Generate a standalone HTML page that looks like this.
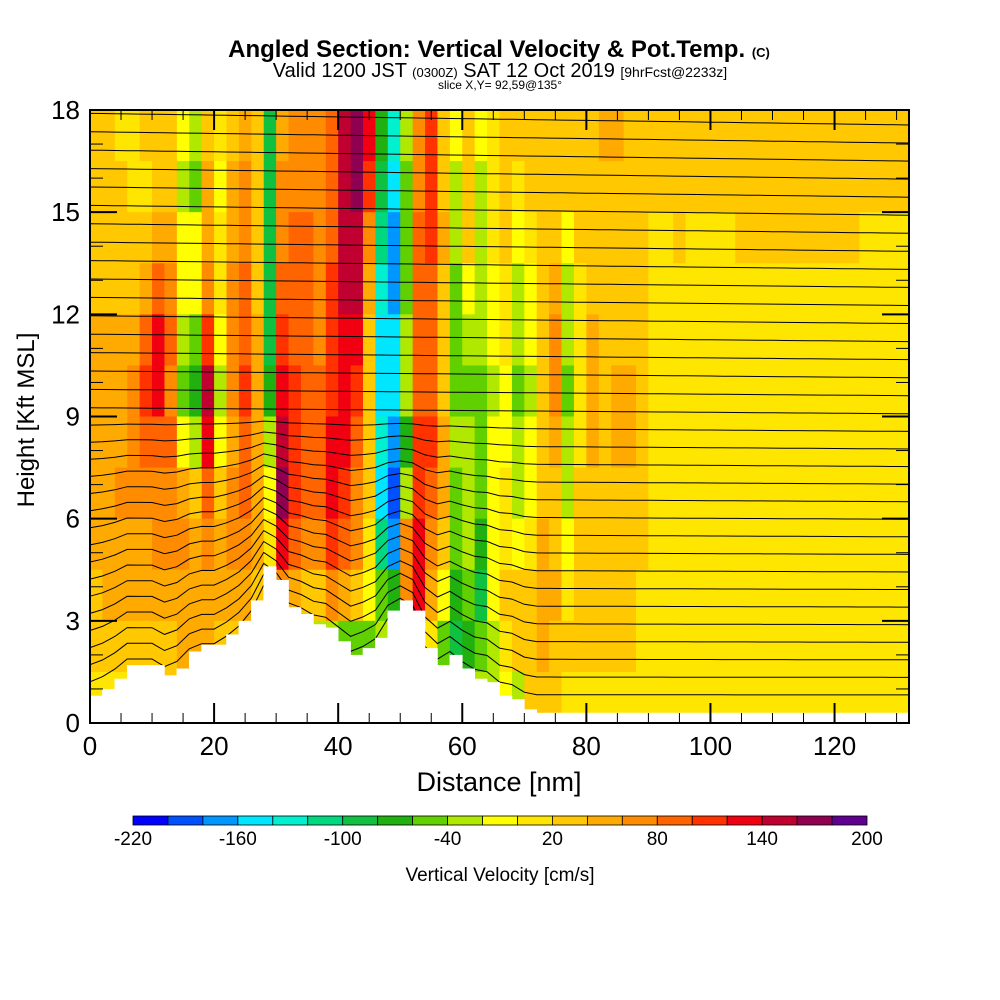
<!DOCTYPE html>
<html><head><meta charset="utf-8"><style>
body{margin:0;background:#fff;}
svg{display:block;font-family:"Liberation Sans",sans-serif;}
</style></head><body>
<svg id="chart" width="1000" height="1000" viewBox="0 0 1000 1000">
<text x="499" y="57" text-anchor="middle" font-size="24" font-weight="bold">Angled Section: Vertical Velocity &amp; Pot.Temp. <tspan font-size="13">(C)</tspan></text>
<text x="500" y="77" text-anchor="middle" font-size="20">Valid 1200 JST <tspan font-size="13">(0300Z)</tspan> SAT 12 Oct 2019 <tspan font-size="14">[9hrFcst@2233z]</tspan></text>
<text x="500" y="89" text-anchor="middle" font-size="12">slice X,Y= 92,59@135°</text>
<g id="cells"></g>
<g id="isen"></g>
<g id="terrain"></g>
<g id="axes"></g>
<text x="499" y="791" text-anchor="middle" font-size="27">Distance [nm]</text>
<text x="0" y="0" transform="translate(34,420) rotate(-90)" text-anchor="middle" font-size="24">Height [Kft MSL]</text>
<g id="cbar"></g>
<text x="500" y="881" text-anchor="middle" font-size="19">Vertical Velocity [cm/s]</text>
</svg>
<script>
// ---- data ----
const colorLevels = [-220,-200,-180,-160,-140,-120,-100,-80,-60,-40,-20,0,20,40,60,80,100,120,140,160,180,200];
const levelColors = ["#0000ff","#0050ff","#0096ff","#00e6ff","#00f0d0","#00d880","#10c040","#20b010","#60d000","#b0e800","#ffff00","#ffe600","#ffc800","#ffaa00","#ff8c00","#ff6400","#ff3200","#f00010","#c00030","#900050","#600090"];
const cbarLabels = [-220,-160,-100,-40,20,80,140,200];
const xTicks = [0,20,40,60,80,100,120];
const yTicks = [0,3,6,9,12,15,18];
// column centres (nm), row centres (kft, top -> bottom)
const distances = [];
for (let i = 0; i < 66; i++) distances.push(1 + 2 * i);
const heights = [17.25,15.75,14.25,12.75,11.25,9.75,8.25,6.75,5.25,3.75,2.25,0.75];
const velocity = [
[20,20,30,30,40,50,50,50,40,30,20,10],
[20,20,30,30,40,50,50,50,50,40,30,10],
[10,20,20,30,40,50,50,60,50,40,30,10],
[10,10,20,30,50,60,60,60,50,40,30,20],
[20,10,30,50,80,100,80,70,50,40,30,30],
[30,20,40,80,120,120,90,70,60,50,30,30],
[30,30,40,60,80,70,80,70,60,50,30,30],
[-20,-40,-20,-20,-40,-60,-20,40,60,50,40,30],
[-40,-50,-20,-10,-60,-80,-40,30,50,50,40,30],
[20,40,50,60,110,150,120,90,70,50,40,30],
[0,-20,0,10,-20,-40,-20,20,40,40,30,20],
[30,40,50,60,70,60,50,60,60,50,30,20],
[50,60,70,80,80,100,90,80,70,50,30,20],
[20,20,20,30,50,50,40,50,40,20,20,20],
[-100,-100,-100,-100,-90,-80,-40,-20,0,0,0,0],
[40,60,70,90,100,120,140,160,120,60,-20,0],
[60,70,80,90,90,100,100,110,80,40,-60,0],
[70,70,80,80,80,80,90,80,60,20,-60,0],
[60,60,70,70,70,80,90,90,70,30,-40,0],
[90,90,90,100,100,110,130,130,110,60,-40,0],
[140,150,150,150,130,120,120,100,90,40,-50,0],
[160,160,150,140,120,100,80,60,60,30,-60,0],
[120,110,60,40,20,20,20,20,10,-20,-60,0],
[-80,-100,-120,-140,-160,-150,-140,-160,-120,-60,-40,0],
[-140,-160,-180,-180,-160,-160,-180,-200,-180,-80,0,0],
[-40,-60,-60,-60,-40,-40,-80,-40,60,60,0,0],
[60,70,80,80,80,90,100,110,130,120,30,0],
[100,110,100,90,80,90,100,80,60,40,0,0],
[30,30,40,30,20,30,40,40,20,-20,-60,0],
[-20,-40,-40,-60,-60,-60,-40,-60,-60,-80,-100,0],
[20,30,20,-20,-40,-60,-40,-40,-40,-60,-80,0],
[-20,-40,-40,-40,-40,-60,-60,-60,-80,-100,-60,-40],
[10,10,0,-20,-20,-30,-20,-20,-20,-20,-40,-40],
[20,20,20,10,0,-20,-20,0,10,20,0,-20],
[20,10,-20,-40,-40,-50,-40,-30,-20,20,20,-30],
[30,20,0,-20,-20,-30,-20,-20,0,30,30,20],
[30,20,20,20,20,30,30,30,40,50,40,20],
[30,30,30,50,60,60,50,30,30,40,30,20],
[30,20,-20,-30,-40,-60,-40,-30,-20,10,20,10],
[30,30,20,10,10,10,10,20,30,30,20,10],
[30,30,30,30,40,50,40,30,20,20,20,10],
[40,30,30,30,30,30,30,30,20,20,20,10],
[40,30,30,30,30,40,40,30,30,20,20,10],
[30,30,30,30,20,40,40,30,20,20,20,10],
[30,30,30,20,20,30,30,20,20,10,10,10],
[30,30,10,10,10,10,10,10,10,10,10,10],
[30,20,10,10,10,10,10,10,10,10,10,10],
[20,20,20,10,10,10,10,10,10,10,10,10],
[30,20,10,10,10,10,10,10,10,10,10,10],
[30,20,10,10,10,10,10,10,10,10,10,10],
[30,20,10,10,10,10,10,10,10,10,10,10],
[30,20,10,10,10,10,10,10,10,10,10,10],
[30,30,30,10,10,10,10,10,10,10,10,10],
[30,30,30,10,10,10,10,10,10,10,10,10],
[30,30,30,10,10,10,10,10,10,10,10,10],
[30,30,30,10,10,10,10,10,10,10,10,10],
[30,30,30,10,10,10,10,10,10,10,10,10],
[30,30,30,10,10,10,10,10,10,10,10,10],
[30,30,30,10,10,10,10,10,10,10,10,10],
[30,30,30,10,10,10,10,10,10,10,10,10],
[30,30,30,10,10,10,10,10,10,10,10,10],
[30,30,30,10,10,10,10,10,10,10,10,10],
[30,30,10,10,10,10,10,10,10,10,10,10],
[30,30,10,10,10,10,10,10,10,10,10,10],
[30,30,10,10,10,10,10,10,10,10,10,10],
[30,30,10,10,10,10,10,10,10,10,10,10]
];
const terrain = [0.8,1.0,1.3,1.7,1.7,1.7,1.4,1.6,2.1,2.3,2.3,2.6,3.0,3.6,4.6,4.2,3.4,3.2,2.9,2.8,2.4,2.0,2.2,2.5,3.3,3.6,3.3,2.2,1.7,2.0,1.6,1.3,1.2,0.8,0.7,0.4,0.3,0.3,0.3,0.3,0.3,0.3,0.3,0.3,0.3,0.3,0.3,0.3,0.3,0.3,0.3,0.3,0.3,0.3,0.3,0.3,0.3,0.3,0.3,0.3,0.3,0.3,0.3,0.3,0.3,0.3];

// ---- axes functions ----
const X0 = 90, X1 = 909, Y0 = 723, Y1 = 110;
const xs = nm => X0 + (X1 - X0) * nm / 132;
const ys = k => Y0 - (Y0 - Y1) * k / 18;
const NS = "http://www.w3.org/2000/svg";
function mk(tag, attrs, parent) { const e = document.createElementNS(NS, tag); for (const k in attrs) e.setAttribute(k, attrs[k]); parent.appendChild(e); return e; }
function colorFor(v) {
  for (let i = 0; i < levelColors.length; i++) if (v < colorLevels[i + 1]) return levelColors[i];
  return levelColors[levelColors.length - 1];
}

// cells
const cells = document.getElementById('cells');
for (let i = 0; i < distances.length; i++) {
  for (let j = 0; j < heights.length; j++) {
    const x0 = xs(distances[i] - 1), x1 = xs(distances[i] + 1);
    const yt = ys(heights[j] + 0.75), yb = ys(heights[j] - 0.75);
    const r = mk('rect', {x: x0, y: yt, width: x1 - x0 + 0.6, height: yb - yt + 0.6, fill: colorFor(velocity[i][j])}, cells);
    
    
  }
}

// isentropes (approximate, follow terrain)
const isen = document.getElementById('isen');
for (let n = 0; n < 34; n++) {
  const base = 0.6 + n * 0.53;
  let d = '';
  for (let i = 0; i <= distances.length; i++) {
    const ti = Math.min(i, distances.length - 1);
    const t = terrain[ti];
    const slope = (132 - 2 * i) / 132 * 0.35 * (base / 18);
    const h = base + 0.8 * t * Math.max(0, 1 - base / 9) + slope;
    d += (i ? 'L' : 'M') + xs(2 * i).toFixed(1) + ',' + ys(Math.min(h, 18)).toFixed(1);
  }
  const p = mk('path', {d: d, fill: 'none', stroke: '#000', 'stroke-width': 1}, isen);
  
  
}

// terrain
const ter = document.getElementById('terrain');
for (let i = 0; i < terrain.length; i++) {
  const x0 = xs(distances[i] - 1), x1 = xs(distances[i] + 1);
  const r = mk('rect', {x: x0 - 0.3, y: ys(terrain[i]), width: x1 - x0 + 0.6, height: Y0 - ys(terrain[i]), fill: '#fff'}, ter);
  
  
}

// axes
const ax = document.getElementById('axes');
mk('rect', {x: X0, y: Y1, width: X1 - X0, height: Y0 - Y1, fill: 'none', stroke: '#000', 'stroke-width': 2}, ax);
for (let v = 0; v <= 130; v += 5) {
  const len = v % 20 === 0 ? 20 : 10;
  mk('line', {x1: xs(v), y1: Y0, x2: xs(v), y2: Y0 - len, stroke: '#000', 'stroke-width': v % 20 === 0 ? 2 : 1}, ax);
  mk('line', {x1: xs(v), y1: Y1, x2: xs(v), y2: Y1 + len, stroke: '#000', 'stroke-width': v % 20 === 0 ? 2 : 1}, ax);
}
for (let v = 0; v <= 18; v += 1) {
  const len = v % 3 === 0 ? 27 : 13;
  mk('line', {x1: X0, y1: ys(v), x2: X0 + len, y2: ys(v), stroke: '#000', 'stroke-width': v % 3 === 0 ? 2 : 1}, ax);
  mk('line', {x1: X1, y1: ys(v), x2: X1 - len, y2: ys(v), stroke: '#000', 'stroke-width': v % 3 === 0 ? 2 : 1}, ax);
}
xTicks.forEach(v => {
  const t = mk('text', {x: xs(v), y: 755, 'text-anchor': 'middle', 'font-size': 26}, ax);
  t.textContent = v;
  
  
});
yTicks.forEach(v => {
  const t = mk('text', {x: 80, y: ys(v) + 9, 'text-anchor': 'end', 'font-size': 26}, ax);
  t.textContent = v;
  
  
});

// colorbar
const cb = document.getElementById('cbar');
const CB0 = 133, CB1 = 867;
const bw = (CB1 - CB0) / levelColors.length;
levelColors.forEach((c, i) => {
  const r = mk('rect', {x: CB0 + i * bw, y: 816, width: bw, height: 9, fill: c, stroke: '#000', 'stroke-width': 0.8}, cb);
  
  
});
cbarLabels.forEach(v => {
  const t = mk('text', {x: CB0 + (v + 220) / 20 * bw, y: 845, 'text-anchor': 'middle', 'font-size': 19}, cb);
  t.textContent = v;
  
  
});
</script>
</body></html>
